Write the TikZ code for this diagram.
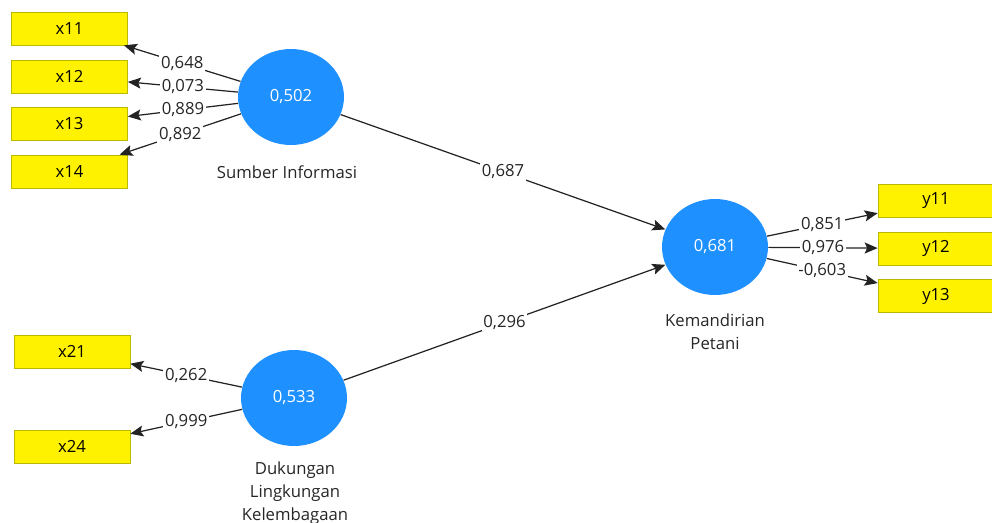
\documentclass[tikz,border=0pt]{standalone}
\usepackage{fontspec}
\setmainfont{Open Sans}
\usetikzlibrary{shapes.geometric,arrows.meta}
\definecolor{plsblue}{RGB}{30,144,255}
\definecolor{boxline}{RGB}{185,185,0}
\definecolor{pathgray}{RGB}{35,35,35}
\tikzset{
  indicator/.style={draw=boxline,fill=yellow,minimum width=2.32cm,minimum height=0.66cm,inner sep=0pt},
  construct/.style={ellipse,fill=plsblue,text=white,minimum width=2.12cm,minimum height=1.92cm,inner sep=0pt},
  caption/.style={align=center,text=black!85},
  loading/.style={midway,fill=white,inner sep=1pt,text=black!85},
  path/.style={draw=pathgray,line width=0.7pt,-{Stealth[length=2.6mm,width=2.2mm,inset=0.5mm]}}
}
\begin{document}
\begin{tikzpicture}[x=0.02cm,y=-0.02cm,font=\fontsize{9.5}{13}\selectfont]
    	        \useasboundingbox (0,0) rectangle (992,522);
    	        % Constructs
    	        \node[construct] (si) at (291,97) {0,502};
    	        \node[construct] (dlk) at (294,398) {0,533};
    	        \node[construct] (kp) at (715,247) {0,681};
    	        \node[caption] (silab) at (287,172) {Sumber Informasi};
    	        \node[caption] (dlklab) at (295,493) {Dukungan\\Lingkungan\\Kelembagaan};
    	        \node[caption] (kplab) at (715,332) {Kemandirian\\Petani};
    	        % Indicators of Sumber Informasi
    	        \node[indicator] (x11) at (69.5,28.5) {x11};
    	        \node[indicator] (x12) at (69.5,76.5) {x12};
    	        \node[indicator] (x13) at (69.5,123.5) {x13};
    	        \node[indicator] (x14) at (69.5,171.5) {x14};
    	        % Indicators of Dukungan Lingkungan Kelembagaan
    	        \node[indicator] (x21) at (72,351.5) {x21};
    	        \node[indicator] (x24) at (72,446.5) {x24};
    	        % Indicators of Kemandirian Petani
    	        \node[indicator] (y11) at (936,201) {y11};
    	        \node[indicator] (y12) at (936,248.5) {y12};
    	        \node[indicator] (y13) at (936,296) {y13};
    	        % Outer loadings
    	        \draw[path] (si) -- (x11) node[loading]{0,648};
    	        \draw[path] (si) -- (x12) node[loading]{0,073};
    	        \draw[path] (si) -- (x13) node[loading]{0,889};
    	        \draw[path] (si) -- (x14) node[loading]{0,892};
    	        \draw[path] (dlk) -- (x21) node[loading]{0,262};
    	        \draw[path] (dlk) -- (x24) node[loading]{0,999};
    	        \draw[path] (kp) -- (y11) node[loading]{0,851};
    	        \draw[path] (kp) -- (y12) node[loading]{0,976};
    	        \draw[path] (kp) -- (y13) node[loading]{-0,603};
    	        % Path coefficients
    	        \draw[path] (si) -- (kp) node[loading]{0,687};
    	        \draw[path] (dlk) -- (kp) node[loading]{0,296};
    	    \end{tikzpicture}
\end{document}
